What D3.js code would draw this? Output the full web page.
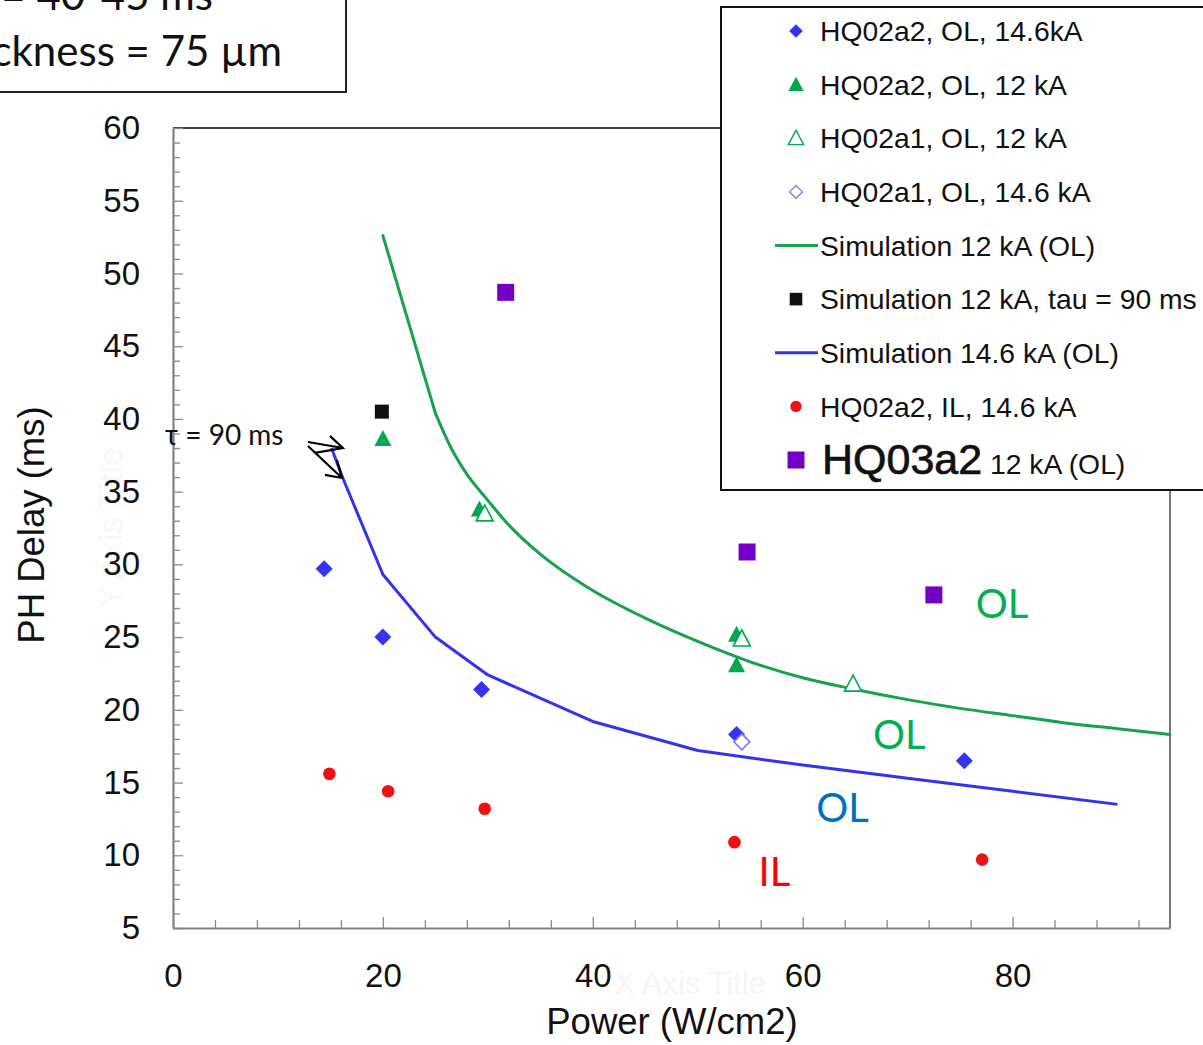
<!DOCTYPE html>
<html><head><meta charset="utf-8">
<script src="https://cdn.jsdelivr.net/npm/d3@7"></script>
<style>
html,body{margin:0;padding:0;background:#fff;}
svg{display:block;}
</style></head>
<body>
<svg id="chart" width="1203" height="1045"></svg>
<script>
// ---------- data ----------
const xTickLabels = [0, 20, 40, 60, 80];
const yTickLabels = [5, 10, 15, 20, 25, 30, 35, 40, 45, 50, 55, 60];

const hq02a2_OL_146 = [[14.4,29.7],[20,25.0],[29.4,21.4],[53.7,18.3],[75.4,16.5]];
const hq02a2_OL_12  = [[20,38.55],[29.2,33.7],[53.7,25.1],[53.7,23.0]];
const hq02a1_OL_12  = [[29.7,33.4],[54.2,24.8],[64.8,21.7]];
const hq02a1_OL_146 = [[54.2,17.8]];
const sim12_tau90   = [[19.9,40.5]];
const hq02a2_IL_146 = [[14.9,15.6],[20.5,14.4],[29.7,13.2],[53.5,10.9],[77.1,9.7]];
const hq03a2_12     = [[31.7,48.7],[54.7,30.85],[72.5,27.9]];

const sim12_OL_steep = [[20,52.6],[25,40.4]];
const sim12_OL_tail  = [[25,40.4],[26.5,38.0],[28,36.2],[30,34.4],[32,32.7],[35,30.7],[40,28.2],[45,26.3],[50,24.7],[55,23.3],[60,22.2],[65,21.4],[70,20.7],[75,20.1],[80,19.6],[85,19.1],[90,18.7],[95,18.3]];
const sim146_OL = [[15.1,38.0],[16.2,35.9],[20,29.3],[25,25.0],[30,22.4],[40,19.2],[50,17.2],[60,16.2],[70,15.3],[80,14.4],[90,13.5]];

const legendLabels = [
  "HQ02a2, OL, 14.6kA",
  "HQ02a2, OL, 12 kA",
  "HQ02a1, OL, 12 kA",
  "HQ02a1, OL, 14.6 kA",
  "Simulation 12 kA (OL)",
  "Simulation 12 kA, tau = 90 ms",
  "Simulation 14.6 kA (OL)",
  "HQ02a2, IL, 14.6 kA",
  "12 kA (OL)"
];
const legendBold = "HQ03a2";

const regionLabels = [
  {text:"OL", x:79.0, y:27.3, color:"#00b050"},
  {text:"OL", x:69.2, y:18.3, color:"#00b050"},
  {text:"OL", x:63.8, y:13.25, color:"#0070c0"},
  {text:"IL", x:57.3, y:8.85, color:"#ff0000"}
];
const tauLabel = "τ = 90 ms";
const boxLines = ["τ = 40-45 ms", "Thickness = 75 µm"];

// ---------- setup ----------
const svg = d3.select("#chart");
const x = d3.scaleLinear().domain([0,95]).range([173,1170]);
const y = d3.scaleLinear().domain([5,60]).range([928,128]);
const ARIAL = "'Liberation Sans', Arial, Helvetica, sans-serif";
const CAL = "Lato, 'Open Sans', 'DejaVu Sans', sans-serif";

const C = {
  blue:"#3434f4", blueOpen:"#7a7af0", green:"#00a84f", greenLine:"#17a24b",
  blueLine:"#3333ee", red:"#f01212", purple:"#7300c4", black:"#111"
};

// faint watermarks
svg.append("text").attr("x",690).attr("y",994).attr("text-anchor","middle")
  .attr("font-family",ARIAL).attr("font-size",31).attr("fill","#f6f6f6").text("X Axis Title");
svg.append("text").attr("transform","translate(122,528) rotate(-90)").attr("text-anchor","middle")
  .attr("font-family",ARIAL).attr("font-size",33).attr("fill","#f8f8f8").text("Y Axis Title");

// frame top & right
svg.append("line").attr("x1",x(0)).attr("x2",x(95)).attr("y1",y(60)).attr("y2",y(60))
  .attr("stroke","#444").attr("stroke-width",2);
svg.append("line").attr("x1",x(95)).attr("x2",x(95)).attr("y1",y(60)).attr("y2",y(5))
  .attr("stroke","#777").attr("stroke-width",2);

// axes
const yAxis = d3.axisLeft(y).tickValues(d3.range(5,61,1)).tickSizeInner(-7).tickSizeOuter(0)
  .tickPadding(33).tickFormat(d => yTickLabels.includes(d) ? d : "");
const gy = svg.append("g").attr("transform",`translate(${x(0)},0)`).call(yAxis);
const xAxis = d3.axisBottom(x).tickValues(d3.range(0,93,4)).tickSizeInner(-8).tickSizeOuter(0)
  .tickPadding(36).tickFormat(d => xTickLabels.includes(d) ? d : "");
const gx = svg.append("g").attr("transform",`translate(0,${y(5)})`).call(xAxis);
[gx,gy].forEach(g=>{
  g.select(".domain").attr("stroke","#808080").attr("stroke-width",2.2);
  g.selectAll(".tick line").attr("stroke","#8a8a8a").attr("stroke-width",1.3);
  g.selectAll(".tick text").attr("font-family",ARIAL).attr("font-size",33).attr("fill","#111");
});
gy.selectAll(".tick line").attr("x2",d=> d%5===0 ? 10 : 7);
gx.selectAll(".tick line").attr("y2",d=> d%20===0 ? -11 : -8);
gx.selectAll(".tick text").attr("dy","0.71em");

// axis titles
svg.append("text").attr("transform","translate(44,525) rotate(-90)").attr("text-anchor","middle")
  .attr("font-family",ARIAL).attr("font-size",36.5).attr("fill","#111").text("PH Delay (ms)");
svg.append("text").attr("x",672).attr("y",1034).attr("text-anchor","middle")
  .attr("font-family",ARIAL).attr("font-size",36.5).attr("fill","#111").text("Power (W/cm2)");

// simulation lines
const line = d3.line().x(d=>x(d[0])).y(d=>y(d[1]));
const smooth = d3.line().x(d=>x(d[0])).y(d=>y(d[1])).curve(d3.curveMonotoneX);
svg.append("path").datum(sim12_OL_steep).attr("d",line).attr("fill","none")
  .attr("stroke",C.greenLine).attr("stroke-width",3).attr("stroke-linecap","round");
svg.append("path").datum(sim12_OL_tail).attr("d",smooth).attr("fill","none")
  .attr("stroke",C.greenLine).attr("stroke-width",3).attr("stroke-linecap","round");
svg.append("path").datum(sim146_OL).attr("d",line).attr("fill","none")
  .attr("stroke",C.blueLine).attr("stroke-width",3).attr("stroke-linejoin","round");

// marker helper
function marker(g, type, cx, cy){
  const s = g.append("path").attr("transform",`translate(${cx},${cy})`);
  if(type==="diamond"){
    s.attr("d","M0,-8.5L8.5,0L0,8.5L-8.5,0Z").attr("fill",C.blue);
  } else if(type==="diamondOpen"){
    s.attr("d","M0,-8L8,0L0,8L-8,0Z").attr("fill","#fff").attr("stroke",C.blueOpen).attr("stroke-width",1.6);
  } else if(type==="tri"){
    s.attr("d","M0,-10L8.5,6L-8.5,6Z").attr("fill",C.green);
  } else if(type==="triOpen"){
    s.attr("d","M0,-10L8.5,6L-8.5,6Z").attr("fill","#fff").attr("stroke",C.green).attr("stroke-width",1.6);
  } else if(type==="sqBlack"){
    s.attr("d","M-7,-7H7V7H-7Z").attr("fill",C.black);
  } else if(type==="sqPurple"){
    s.attr("d","M-8.5,-8.5H8.5V8.5H-8.5Z").attr("fill",C.purple);
  } else if(type==="circle"){
    s.attr("d",d3.symbol(d3.symbolCircle, 125)()).attr("fill",C.red);
  }
  return s;
}
const pts = svg.append("g");
const plotSeries = [
  [hq02a2_IL_146,"circle"],
  [sim12_tau90,"sqBlack"],
  [hq03a2_12,"sqPurple"],
  [hq02a2_OL_146,"diamond"],
  [hq02a1_OL_146,"diamondOpen"],
  [hq02a2_OL_12,"tri"],
  [hq02a1_OL_12,"triOpen"]
];
plotSeries.forEach(([data,type])=>data.forEach(d=>marker(pts,type,x(d[0]),y(d[1]))));

// region labels
regionLabels.forEach(l=>{
  svg.append("text").attr("x",x(l.x)).attr("y",y(l.y)).attr("dy","0.36em").attr("text-anchor","middle")
    .attr("font-family",CAL).attr("font-size",40).attr("fill",l.color).text(l.text);
});

// tau annotation
svg.append("text").attr("x",165).attr("y",445).attr("font-family",CAL).attr("font-size",28)
  .attr("fill","#111").text(tauLabel);
const arrows = [
  {tail:[12.86,38.41], tip:[16.19,38.0], w1:[14.95,38.83], w2:[13.52,37.66]},
  {tail:[12.86,38.14], tip:[16.1,35.94], w1:[15.62,37.18], w2:[14.48,36.15]}
];
arrows.forEach(a=>{
  const P = p=>[x(p[0]),y(p[1])];
  svg.append("path").attr("d",d3.line()([P(a.tail),P(a.tip)]) + d3.line()([P(a.w1),P(a.tip),P(a.w2)]))
    .attr("fill","none").attr("stroke","#000").attr("stroke-width",2.2);
});

// top-left box
svg.append("rect").attr("x",-5).attr("y",-5).attr("width",351).attr("height",97)
  .attr("fill","#fff").attr("stroke","#222").attr("stroke-width",2);
boxLines.forEach((t,i)=>{
  svg.append("text").attr("x",i===0?213:282).attr("y",i===0?10:66).attr("text-anchor","end")
    .attr("font-family",CAL).attr("font-size",42).attr("fill","#111").text(t);
});

// legend
const lg = svg.append("g");
lg.append("rect").attr("x",721).attr("y",7).attr("width",520).attr("height",483)
  .attr("fill","#fff").attr("stroke","#111").attr("stroke-width",2);
const legendTypes = ["diamond","tri","triOpen","diamondOpen","lineGreen","sqBlack","lineBlue","circle","sqPurple"];
const rowY = d3.scaleLinear().domain([0,8]).range([31,460]);
legendTypes.forEach((t,i)=>{
  const cy = rowY(i);
  if(t==="lineGreen" || t==="lineBlue"){
    lg.append("line").attr("x1",775).attr("x2",818).attr("y1",cy).attr("y2",cy)
      .attr("stroke",t==="lineGreen"?C.greenLine:C.blueLine).attr("stroke-width",3);
  } else {
    const m = marker(lg,t,796,cy);
    if(t==="diamond"||t==="diamondOpen") m.attr("transform",`translate(796,${cy}) scale(0.8)`);
    if(t==="tri"||t==="triOpen") m.attr("transform",`translate(796,${cy+1}) scale(0.9)`);
    if(t==="sqBlack") m.attr("transform",`translate(796,${cy}) scale(0.9)`);
    if(t==="circle") m.attr("transform",`translate(796,${cy}) scale(0.9)`);
  }
  if(i===8){
    const tx = lg.append("text").attr("x",822).attr("y",cy+14)
      .attr("font-family",ARIAL).attr("fill","#111");
    tx.append("tspan").attr("font-size",43).attr("stroke","#111").attr("stroke-width",0.7).text(legendBold);
    tx.append("tspan").attr("font-size",28.3).text(" " + legendLabels[i]);
  } else {
    lg.append("text").attr("x",820).attr("y",cy).attr("dy","0.36em")
      .attr("font-family",ARIAL).attr("font-size",28.3).attr("fill","#111").text(legendLabels[i]);
  }
});
</script>
</body></html>
